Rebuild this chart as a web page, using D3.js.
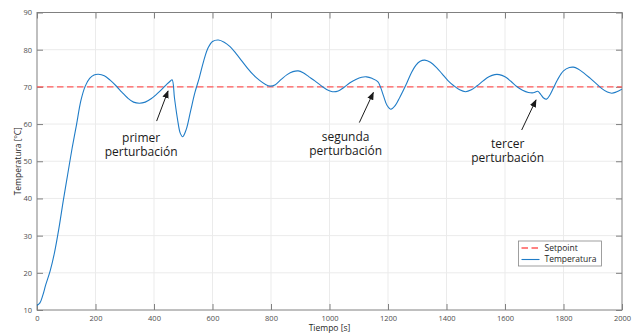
<!DOCTYPE html>
<html><head><meta charset="utf-8">
<script src="https://cdn.jsdelivr.net/npm/d3@7"></script>
<style>
html,body{margin:0;padding:0;background:#fff;}
svg{display:block;font-family:"Open Sans",sans-serif;}
</style></head>
<body><svg id="c" width="633" height="334"></svg>
<script>
// ---- data ----
const time = [0,10,20,30,45,60,75,90,105,120,135,150,165,180,195,210,230,250,270,290,310,330,350,370,390,410,430,445,455,462,470,480,490,498,510,525,540,555,570,585,600,620,640,660,680,700,720,740,760,780,797,815,835,855,875,893,910,930,950,970,990,1010,1030,1050,1070,1090,1110,1127,1145,1165,1175,1185,1197,1210,1225,1241,1264,1280,1295,1310,1326,1345,1366,1385,1405,1425,1445,1465,1485,1505,1525,1545,1565,1580,1600,1620,1640,1660,1680,1697,1712,1722,1732,1742,1752,1765,1780,1800,1820,1834,1850,1870,1890,1910,1930,1950,1965,1980,2000];
const temperatura = [11.2,11.9,14,16.8,20.5,25.5,32,39.5,46.5,53.5,59.8,66.3,70.2,72.3,73.2,73.4,73,71.8,70.3,68.6,67,65.9,65.6,65.9,66.8,68.1,69.6,70.8,71.5,71.9,67,61.5,57.5,56.6,58.5,63.5,68.5,72.5,77,80.5,82.2,82.6,82,80.8,79,77,75,73.2,71.8,70.7,70.2,70.6,72,73.3,74.1,74.3,73.8,72.7,71.6,70.4,69.3,68.7,68.9,69.9,71.1,72,72.6,72.7,72.3,71.4,69.8,67.5,65,64,65,67.3,71,73.8,75.8,76.9,77.2,76.6,75.2,73.5,71.7,70.3,69.2,68.7,69.2,70.3,71.6,72.7,73.3,73.3,72.7,71.5,70.1,69.1,68.5,68.4,68.8,68,67,66.7,67.6,69.6,72,74.3,75.2,75.3,74.8,73.7,72.4,71,69.6,68.6,68.3,68.6,69.4];
const setpoint = 70;
const xTicks = [0,200,400,600,800,1000,1200,1400,1600,1800,2000];
const yTicks = [10,20,30,40,50,60,70,80,90];
const seriesNames = ["Setpoint","Temperatura"];
const annLines = [["primer","perturbación"],["segunda","perturbación"],["tercer","perturbación"]];
const annTextX = [356,1055,1609];
const annTextY = [56.4,56.6,54.8];
const annTail = [[409,60.8],[1102,60.4],[1657,58.4]];
const annHead = [[448,68.9],[1150,68.5],[1706,66.5]];

// ---- layout ----
const W=633,H=334, m={l:37,r:11,t:12.5,b:24};
const svg=d3.select("#c");
const x=d3.scaleLinear().domain([0,2000]).range([m.l,W-m.r]);
const y=d3.scaleLinear().domain([10,90]).range([H-m.b,m.t]);
const axisCol="#4d4d4d", lineCol="#808080";

// grid
const g=svg.append("g");
g.selectAll("line.gx").data(xTicks.slice(1,-1)).join("line")
 .attr("x1",d=>x(d)).attr("x2",d=>x(d)).attr("y1",y(10)).attr("y2",y(90))
 .attr("stroke","#ebebeb").attr("stroke-width",1);
g.selectAll("line.gy").data(yTicks.slice(1,-1)).join("line")
 .attr("y1",d=>y(d)).attr("y2",d=>y(d)).attr("x1",x(0)).attr("x2",x(2000))
 .attr("stroke","#ebebeb").attr("stroke-width",1);

// axes
function styleAxis(sel){
  sel.select(".domain").remove();
  sel.selectAll(".tick line").attr("stroke",lineCol);
  sel.selectAll(".tick text").attr("fill",axisCol).style("font-size","7.5px").style("font-family","'Open Sans',sans-serif");
}
svg.append("g").attr("transform",`translate(0,${y(10)})`)
 .call(d3.axisBottom(x).tickValues(xTicks).tickSize(-6).tickPadding(6).tickFormat(d3.format("d"))).call(styleAxis);
svg.append("g").attr("transform",`translate(${x(0)},0)`)
 .call(d3.axisLeft(y).tickValues(yTicks).tickSize(-6).tickPadding(5).tickFormat(d3.format("d"))).call(styleAxis);
svg.append("g").attr("transform",`translate(0,${y(90)})`)
 .call(d3.axisTop(x).tickValues(xTicks).tickSize(-6).tickFormat("")).call(styleAxis);
svg.append("g").attr("transform",`translate(${x(2000)},0)`)
 .call(d3.axisRight(y).tickValues(yTicks).tickSize(-6).tickFormat("")).call(styleAxis);
svg.append("rect").attr("x",x(0)).attr("y",y(90)).attr("width",x(2000)-x(0)).attr("height",y(10)-y(90))
 .attr("fill","none").attr("stroke",lineCol).attr("stroke-width",1);

// setpoint
svg.append("line").attr("x1",x(0)).attr("x2",x(2000)).attr("y1",y(setpoint)).attr("y2",y(setpoint))
 .attr("stroke","#ff5a5a").attr("stroke-width",1.4).attr("stroke-dasharray","6.5,3.5");

// temperature line
const data=time.map((t,i)=>[t,temperatura[i]]);
svg.append("path").datum(data)
 .attr("d",d3.line().x(d=>x(d[0])).y(d=>y(d[1])).curve(d3.curveCatmullRom.alpha(0.5)))
 .attr("fill","none").attr("stroke","#1f7cc7").attr("stroke-width",1.1);

// annotations
svg.append("defs").append("marker").attr("id","ah").attr("viewBox","0 0 10 10").attr("refX",9).attr("refY",5)
 .attr("markerWidth",8).attr("markerHeight",8).attr("orient","auto").attr("markerUnits","userSpaceOnUse")
 .append("path").attr("d","M0,1 L10,5 L0,9 z").attr("fill","#1a1a1a");
annLines.forEach((lines,i)=>{
  svg.append("line").attr("x1",x(annTail[i][0])).attr("y1",y(annTail[i][1]))
   .attr("x2",x(annHead[i][0])).attr("y2",y(annHead[i][1]))
   .attr("stroke","#1a1a1a").attr("stroke-width",1).attr("marker-end","url(#ah)");
  lines.forEach((l,j)=>svg.append("text").attr("x",x(annTextX[i])).attr("y",y(annTextY[i])+j*14)
   .attr("dy","0.35em").attr("text-anchor","middle").attr("fill","#1a1a1a").style("font-size","12px").text(l));
});

// axis labels
svg.append("text").attr("x",(x(0)+x(2000))/2).attr("y",331).attr("text-anchor","middle")
 .attr("fill","#262626").style("font-size","8.5px").text("Tiempo [s]");
svg.append("text").attr("transform",`translate(21,${(y(10)+y(90))/2}) rotate(-90)`).attr("text-anchor","middle")
 .attr("fill","#262626").style("font-size","8.5px").text("Temperatura [ºC]");

// legend
const lg=svg.append("g").attr("transform","translate(518.5,241)");
lg.append("rect").attr("width",83).attr("height",25).attr("fill","#fff").attr("stroke","#888").attr("stroke-width",0.8);
lg.append("line").attr("x1",3).attr("x2",21).attr("y1",7).attr("y2",7).attr("stroke","#ff5a5a").attr("stroke-width",1.4).attr("stroke-dasharray","6.5,3.5");
lg.append("line").attr("x1",3).attr("x2",21).attr("y1",18.5).attr("y2",18.5).attr("stroke","#1f7cc7").attr("stroke-width",1.1);
seriesNames.forEach((n,i)=>lg.append("text").attr("x",26).attr("y",7+i*11.5).attr("dy","0.35em")
 .attr("fill","#262626").style("font-size","8.5px").text(n));
</script></body></html>
